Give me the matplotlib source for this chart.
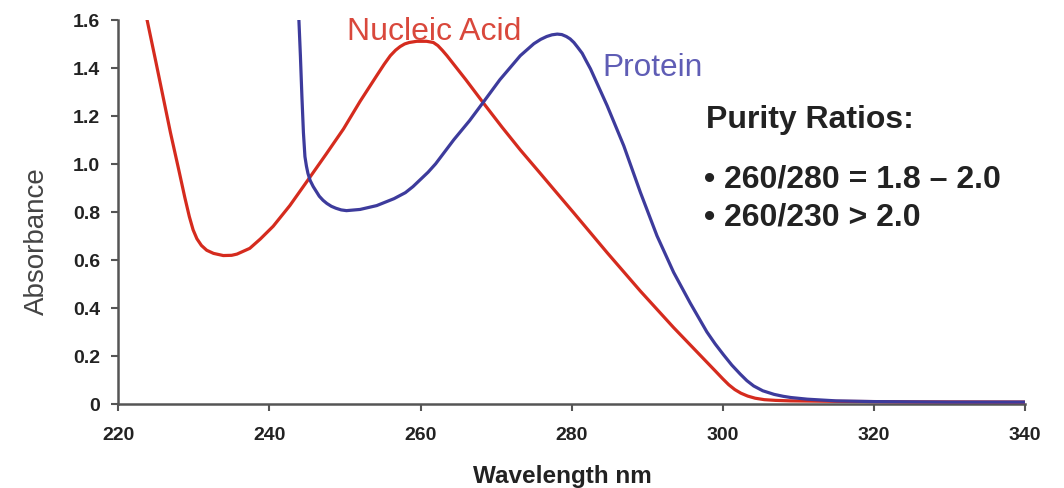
import matplotlib
import matplotlib.pyplot as plt
import matplotlib.ticker as ticker
matplotlib.use('Agg')

plt.rcParams['font.family'] = ['Liberation Sans', 'DejaVu Sans']

# absorbance spectra (wavelength in nm, absorbance)
nucleic_wl = [223.8, 225.0, 226.9, 228.0, 228.8, 229.4, 229.9, 230.4, 231.0, 231.7,
              232.6, 233.9, 235.0, 235.7, 237.4, 238.8, 240.5, 242.7, 245.2, 247.5,
              249.8, 252.0, 254.2, 255.2, 256.0, 256.7, 257.3, 257.9, 258.5, 259.5,
              260.8, 261.7, 262.3, 262.9, 263.5, 266.0, 268.3, 270.8, 273.2, 275.8,
              277.6, 280.3, 284.7, 289.1, 293.5, 297.9, 299.0, 300.0, 300.8, 301.6,
              302.4, 303.3, 304.3, 305.5, 307.0, 309.0, 315.0, 325.0, 340.0]
nucleic_abs = [1.60, 1.42, 1.13, 0.975, 0.86, 0.78, 0.725, 0.688, 0.66, 0.64,
               0.627, 0.618, 0.619, 0.624, 0.648, 0.687, 0.74, 0.826, 0.937, 1.04,
               1.145, 1.26, 1.367, 1.415, 1.45, 1.473, 1.488, 1.499, 1.505, 1.51,
               1.51, 1.505, 1.492, 1.472, 1.45, 1.35, 1.254, 1.152, 1.058, 0.962,
               0.895, 0.795, 0.63, 0.47, 0.318, 0.174, 0.138, 0.105, 0.08, 0.06,
               0.045, 0.033, 0.024, 0.018, 0.015, 0.013, 0.011, 0.009, 0.008]

protein_wl = [243.9, 244.1, 244.3, 244.5, 244.7, 244.9, 245.1, 245.4, 245.8, 246.2,
              246.6, 247.1, 247.6, 248.2, 248.8, 249.5, 250.2, 252.0, 254.2, 256.5,
              258.0, 259.0, 260.0, 261.0, 262.0, 263.2, 264.4, 266.5, 268.3, 270.5,
              273.2, 275.0, 275.9, 276.7, 277.4, 278.1, 278.7, 279.3, 279.8, 280.3,
              280.8, 281.4, 281.9, 282.5, 284.7, 286.9, 289.1, 291.3, 293.5, 295.7,
              297.9, 299.0, 300.1, 301.2, 302.3, 303.2, 304.1, 305.3, 306.8, 308.0,
              309.0, 311.2, 315.0, 320.0, 330.0, 340.0]
protein_abs = [1.60, 1.45, 1.28, 1.13, 1.03, 0.99, 0.96, 0.93, 0.905, 0.885,
               0.865, 0.848, 0.835, 0.823, 0.815, 0.808, 0.805, 0.81, 0.826, 0.855,
               0.88, 0.905, 0.935, 0.965, 1.00, 1.05, 1.10, 1.18, 1.256, 1.35,
               1.45, 1.50, 1.518, 1.53, 1.537, 1.54, 1.538, 1.53, 1.52, 1.505,
               1.485, 1.46, 1.43, 1.395, 1.242, 1.075, 0.881, 0.70, 0.548, 0.42,
               0.30, 0.25, 0.205, 0.162, 0.125, 0.097, 0.075, 0.055, 0.04, 0.032,
               0.027, 0.02, 0.013, 0.01, 0.008, 0.008]

x_ticks = [220, 240, 260, 280, 300, 320, 340]
y_ticks = [0, 0.2, 0.4, 0.6, 0.8, 1.0, 1.2, 1.4, 1.6]

red = '#d52b1e'
blue = '#3d3b9c'
axis_grey = '#555555'
text_dark = '#222222'

fig = plt.figure(figsize=(10.64, 4.89), dpi=100, facecolor='w')
ax = fig.add_axes([0.1112, 0.1718, 0.8521, 0.7859])

ax.plot(nucleic_wl, nucleic_abs, color=red, linewidth=2.3, solid_joinstyle='round',
        solid_capstyle='butt', zorder=3)
ax.plot(protein_wl, protein_abs, color=blue, linewidth=2.3, solid_joinstyle='round',
        solid_capstyle='butt', zorder=4)

ax.set_xlim(220, 340)
ax.set_ylim(0, 1.6)
ax.set_xticks(x_ticks)
ax.set_yticks(y_ticks)
ax.yaxis.set_major_formatter(ticker.FuncFormatter(lambda v, p: '0' if v == 0 else '%.1f' % v))

for side in ['top', 'right']:
    ax.spines[side].set_visible(False)
for side in ['left', 'bottom']:
    ax.spines[side].set_color(axis_grey)
    ax.spines[side].set_linewidth(1.8)

ax.tick_params(axis='both', direction='out', length=5, width=1.5, color=axis_grey,
               labelsize=14, labelcolor=text_dark)
ax.tick_params(axis='x', pad=11)
ax.tick_params(axis='y', pad=8)
for lbl in ax.get_xticklabels() + ax.get_yticklabels():
    lbl.set_fontweight('bold')

# axis titles
fig.text(562 / 1064, 1 - 477 / 489, 'Wavelength nm', fontsize=17.5, fontweight='bold',
         color=text_dark, ha='center', va='center')
fig.text(37 / 1064, 1 - 241 / 489, 'Absorbance', fontsize=20, color='#444444',
         rotation=90, ha='center', va='center')

# curve labels
ax.text(261.8, 1.554, 'Nucleic Acid', color='#d9483c', fontsize=23, ha='center', va='center')
ax.text(284.1, 1.405, 'Protein', color='#5f5db5', fontsize=22.8, ha='left', va='center')

# purity ratio notes
ax.text(297.8, 1.185, 'Purity Ratios:', color=text_dark, fontsize=23, fontweight='bold',
        ha='left', va='center')
ax.text(297.5, 0.94, '\u2022 260/280 = 1.8 \u2013 2.0', color=text_dark, fontsize=23,
        fontweight='bold', ha='left', va='center')
ax.text(297.5, 0.78, '\u2022 260/230 > 2.0', color=text_dark, fontsize=23,
        fontweight='bold', ha='left', va='center')

fig.savefig('out.png', dpi=100, facecolor='w')
plt.close(fig)
